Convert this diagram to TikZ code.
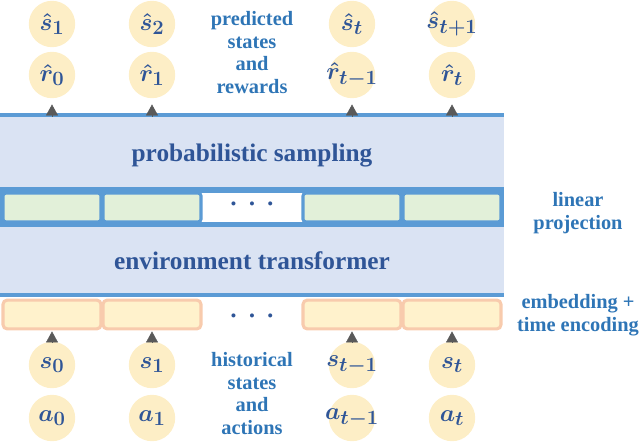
\documentclass[tikz,border=0pt]{standalone}
\usepackage{fontspec}
\setmainfont{Liberation Serif}
\usepackage{bm}
\usetikzlibrary{calc,positioning,arrows.meta}
\definecolor{bandfill}{HTML}{DAE3F3}
\definecolor{bandline}{HTML}{5B9BD5}
\definecolor{projfill}{HTML}{E2F0D9}
\definecolor{embfill}{HTML}{FFF2CC}
\definecolor{embline}{HTML}{F8CBAD}
\definecolor{tokfill}{HTML}{FDEEC6}
\definecolor{inkdark}{HTML}{2F5597}
\definecolor{inklight}{HTML}{2E75B6}
\definecolor{tipgray}{HTML}{595959}
\tikzset{
  tok/.style={
    circle,
    fill=tokfill,
    minimum size=11.6mm,
    inner sep=0pt,
    text=inkdark,
    font=\fontsize{19}{19}\selectfont\boldmath
  },
  band/.style={fill=bandfill, minimum width=126mm, inner sep=0pt, text=inkdark, font=\fontsize{18}{20}\selectfont\bfseries},
  strip/.style={fill=bandline, minimum width=126mm, minimum height=10mm, inner sep=0pt},
  projbox/.style={draw=bandline, line width=2.2pt, fill=projfill, rounded corners=2pt, minimum width=24.5mm, minimum height=7.2mm, inner sep=0pt},
  embbox/.style={draw=embline, line width=2.2pt, fill=embfill, rounded corners=3pt, minimum width=24.5mm, minimum height=7.2mm, inner sep=0pt},
  rule/.style={draw=bandline, line width=1.1mm},
  side/.style={font=\fontsize{14.5}{16.3}\selectfont\bfseries, text=inklight, align=center, inner sep=0pt},
  dotsrow/.style={text=inkdark, inner sep=0pt, font=\fontsize{12}{12}\selectfont},
  tip/.style={-{Triangle[width=3mm,length=2.75mm]}, draw=tipgray, fill=tipgray, line width=0.3pt},
}
\newcommand{\ThreeDots}{\textbullet\hspace{3.1mm}\textbullet\hspace{3.1mm}\textbullet}
\newcommand{\TokText}[1]{\makebox[0pt]{$#1$}}

\begin{document}
\begin{tikzpicture}[x=0.25mm, y=-0.25mm]
  \useasboundingbox (0,0) rectangle (640,444);
  % the two bands and the projection strip
  \node[band, minimum height=18mm, text height=6.6mm] (samp) at (252,151) {probabilistic sampling};
  \node[strip] (projrow) at (252,207) {};
  \node[band, minimum height=17mm] (envt) at (252,261) {environment transformer};
  \draw[rule] (samp.north west) -- (samp.north east);
  \draw[rule] (envt.south west) -- (envt.south east);
  \node[fill=white, minimum width=26mm, minimum height=7.2mm, inner sep=0pt] (projgap) at (252,207.5) {};
  \node[dotsrow] (projdots) at (252,206) {\ThreeDots};
  \node[dotsrow] (embdots) at (252,318) {\ThreeDots};
  % token columns
  \foreach \x/\ps/\pr/\hs/\ha [count=\i] in {
      52/{\hat{s}_1}/{\hat{r}_0}/{s_0}/{a_0},
      152/{\hat{s}_2}/{\hat{r}_1}/{s_1}/{a_1},
      352/{\hat{s}_t}/{\hat{r}_{t-1}}/{s_{t-1}}/{a_{t-1}},
      452/{\hat{s}_{t+1}}/{\hat{r}_t}/{s_t}/{a_t}} {
    \node[projbox] (Lp\i) at (\x,207.5) {};
    \node[embbox] (Eb\i) at (\x,314.5) {};
    \node[tok] (Ps\i) at (\x,24) {\TokText{\ps}};
    \node[tok] (Pr\i) at (\x,75) {\TokText{\pr}};
    \node[tok] (Hs\i) at (\x,365) {\TokText{\hs}};
    \node[tok] (Ha\i) at (\x,418) {\TokText{\ha}};
    \draw[tip, shorten <=0.5mm, shorten >=1.5mm] (Pr\i |- samp.north) -- (Pr\i);
    \draw[tip, shorten <=0.25mm, shorten >=0.25mm] (Hs\i) -- (Eb\i);
  }
  % side labels
  \node[side] (predlbl) at (252,52.5) {predicted\\states\\and\\rewards};
  \node[side] (histlbl) at (252,393.5) {historical\\states\\and\\actions};
  \node[side] (projlbl) at (578,213) {linear\\projection};
  \node[side] (emblbl) at (578,315.5) {embedding +\\time encoding};
\end{tikzpicture}
\end{document}
